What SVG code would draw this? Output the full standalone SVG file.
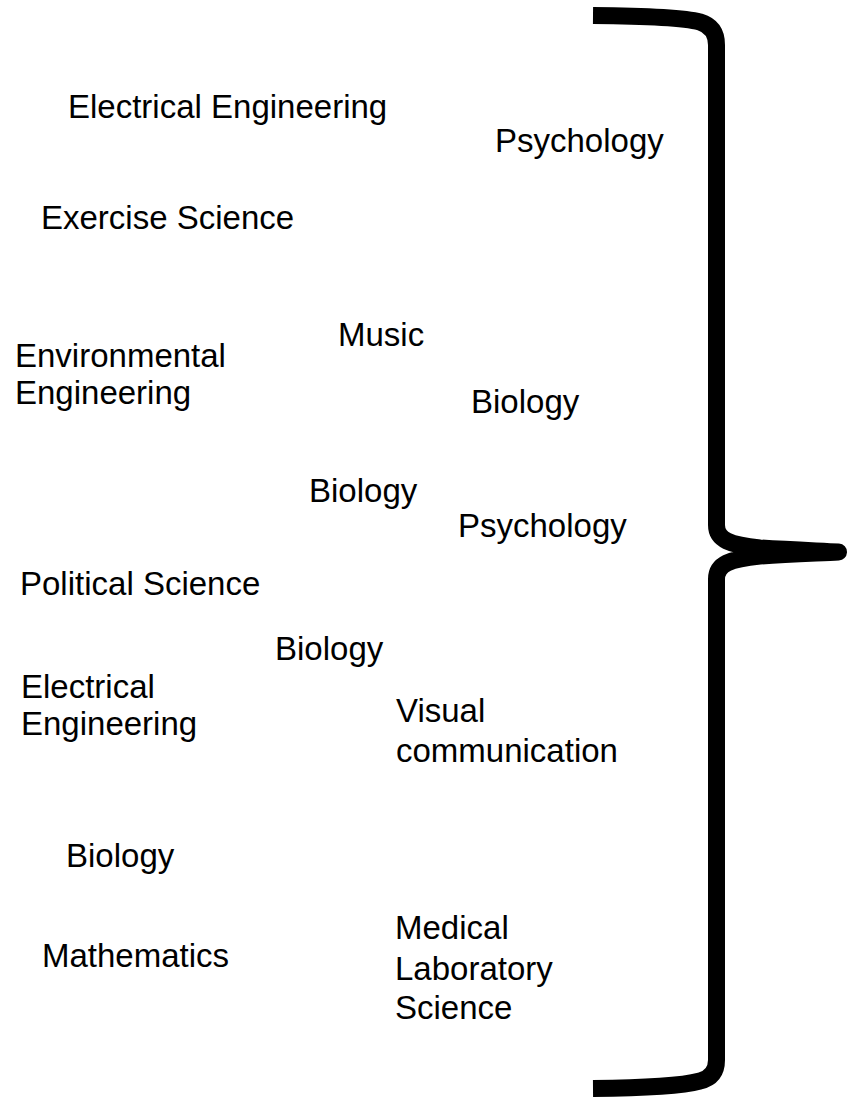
<svg xmlns="http://www.w3.org/2000/svg" width="855" height="1097" viewBox="0 0 855 1097">
<style>
text{font-family:"Liberation Sans",Arial,sans-serif;font-size:33px;fill:#000}
.brace{fill:none;stroke:#000;stroke-width:17;stroke-linejoin:round;stroke-linecap:butt}
</style>
<rect width="855" height="1097" fill="#fff"/>
<g id="connectors">
<path class="brace" d="M593,15.5 C650,16 685,18 700,22 Q716.5,27 716.5,45 L716.5,525 C716.5,540 730,545 760,548 C790,550 820,551 838.5,552 C820,553 790,554 760,556 C730,559 716.5,564 716.5,579 L716.5,1060 Q716.5,1077 700,1081 C685,1085 650,1088 593,1088.5"/>
</g>
<g id="n1"><text x="68" y="118">Electrical Engineering</text></g>
<g id="n2"><text x="495" y="152">Psychology</text></g>
<g id="n3"><text x="41" y="229">Exercise Science</text></g>
<g id="n4"><text x="338" y="346">Music</text></g>
<g id="n5"><text x="15" y="367">Environmental</text><text x="15" y="403.5">Engineering</text></g>
<g id="n6"><text x="471" y="413">Biology</text></g>
<g id="n7"><text x="309" y="502">Biology</text></g>
<g id="n8"><text x="458" y="537">Psychology</text></g>
<g id="n9"><text x="20" y="595">Political Science</text></g>
<g id="n10"><text x="275" y="660">Biology</text></g>
<g id="n11"><text x="21" y="698">Electrical</text><text x="21" y="735">Engineering</text></g>
<g id="n12"><text x="396" y="722">Visual</text><text x="396" y="762">communication</text></g>
<g id="n13"><text x="66" y="867">Biology</text></g>
<g id="n14"><text x="42" y="967">Mathematics</text></g>
<g id="n15"><text x="395" y="939">Medical</text><text x="395" y="980">Laboratory</text><text x="395" y="1019">Science</text></g>
</svg>
